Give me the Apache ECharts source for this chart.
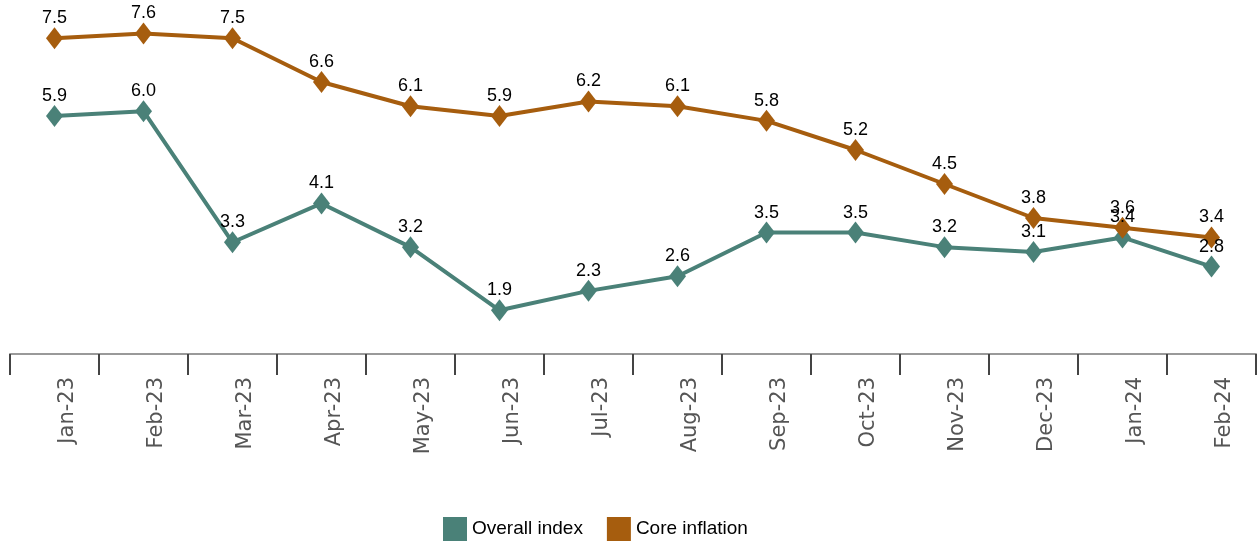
<!DOCTYPE html>
<html><head><meta charset="utf-8">
<script src="https://cdn.jsdelivr.net/npm/echarts@6/dist/echarts.min.js"></script>
<style>html,body{margin:0;padding:0;background:#fff}#c{width:1257px;height:545px}</style>
</head><body><div id="c"></div>
<script>
const categories = ['Jan-23','Feb-23','Mar-23','Apr-23','May-23','Jun-23','Jul-23','Aug-23','Sep-23','Oct-23','Nov-23','Dec-23','Jan-24','Feb-24'];
const overallIndex = [5.9, 6.0, 3.3, 4.1, 3.2, 1.9, 2.3, 2.6, 3.5, 3.5, 3.2, 3.1, 3.4, 2.8];
const coreInflation = [7.5, 7.6, 7.5, 6.6, 6.1, 5.9, 6.2, 6.1, 5.8, 5.2, 4.5, 3.8, 3.6, 3.4];
const seriesNames = ['Overall index', 'Core inflation'];
const colors = ['#4a8178', '#a65d0e'];

const chart = echarts.init(document.getElementById('c'));
const mkSeries = (name, data, color) => ({
  name, type: 'line', data,
  symbol: 'diamond', symbolSize: [17, 22],
  lineStyle: { color, width: 4 },
  itemStyle: { color },
  label: { show: true, position: 'top', distance: 0, color: '#000', fontFamily: 'Liberation Sans, Arial', fontSize: 18,
           formatter: p => p.value.toFixed(1) },
  animation: false
});
chart.setOption({
  animation: false,
  grid: { left: 10, right: 1, top: 14, bottom: 191, containLabel: false },
  legend: {
    left: 443, top: 517, padding: 0, itemWidth: 24, itemHeight: 24, itemGap: 24,
    icon: 'rect',
    textStyle: { color: '#000', fontFamily: 'Liberation Sans, Arial', fontSize: 19 },
    data: seriesNames.map((n, i) => ({ name: n, itemStyle: { color: colors[i] } }))
  },
  xAxis: {
    type: 'category', data: categories, boundaryGap: true,
    axisLine: { show: true, lineStyle: { color: '#999', width: 2 } },
    axisTick: { show: true, length: 21, lineStyle: { color: '#444', width: 2 } },
    axisLabel: { rotate: 90, margin: 23, color: '#555', fontFamily: 'DejaVu Sans', fontSize: 21,
                 verticalAlign: 'top', lineHeight: 26 }
  },
  yAxis: { type: 'value', min: 1, max: 8, show: false, splitLine: { show: false } },
  series: [
    mkSeries(seriesNames[0], overallIndex, colors[0]),
    mkSeries(seriesNames[1], coreInflation, colors[1])
  ]
});
</script></body></html>
